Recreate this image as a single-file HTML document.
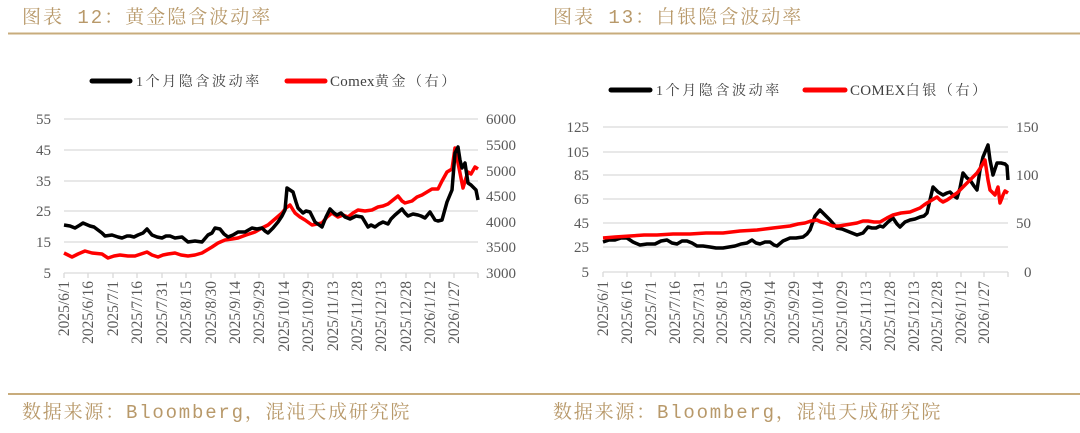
<!DOCTYPE html>
<html><head><meta charset="utf-8"><style>
html,body{margin:0;padding:0;background:#fff;}
body{width:1080px;height:428px;overflow:hidden;}
</style></head><body>
<svg width="1080" height="428" xmlns="http://www.w3.org/2000/svg">
<style>
.t{font-family:"Liberation Mono","Noto Serif CJK SC",serif;font-size:19px;fill:#b8996a;letter-spacing:2px;}
.f{font-family:"Liberation Mono","Noto Serif CJK SC",serif;font-size:19px;fill:#b8996a;letter-spacing:1.8px;}
.tk{font-family:"Liberation Serif",serif;font-size:15px;fill:#595959;}
.dt{font-family:"Liberation Serif",serif;font-size:15.5px;fill:#595959;}
.lg{font-family:"Liberation Serif","Noto Serif CJK SC",serif;font-size:14px;fill:#404040;letter-spacing:2.6px;}
.lt{letter-spacing:0.3px;font-size:15px;}
.g{stroke:#d9d9d9;stroke-width:1.3;}
</style>
<text class="t" x="22" y="23">图表 12：黄金隐含波动率</text>
<text class="t" x="553" y="23">图表 13：白银隐含波动率</text>
<line x1="8" y1="33.5" x2="1080" y2="33.5" stroke="#c8ac7c" stroke-width="2"/>
<line x1="8" y1="394" x2="1080" y2="394" stroke="#c8ac7c" stroke-width="2"/>
<text class="f" x="22" y="418">数据来源：Bloomberg，混沌天成研究院</text>
<text class="f" x="553" y="418">数据来源：Bloomberg，混沌天成研究院</text>

<!-- LEFT CHART -->
<line x1="92" y1="81" x2="130" y2="81" stroke="#000" stroke-width="5" stroke-linecap="round"/>
<text class="lg" x="136" y="86">1个月隐含波动率</text>
<line x1="287" y1="81" x2="325" y2="81" stroke="#f00" stroke-width="5" stroke-linecap="round"/>
<text class="lg" x="330" y="86"><tspan class="lt">Comex</tspan>黄金（右）</text>
<g class="g">
<line x1="64" y1="119" x2="478" y2="119"/><line x1="64" y1="150" x2="478" y2="150"/>
<line x1="64" y1="181" x2="478" y2="181"/><line x1="64" y1="211" x2="478" y2="211"/>
<line x1="64" y1="242" x2="478" y2="242"/><line x1="64" y1="273" x2="478" y2="273"/>
</g>
<g stroke="#d9d9d9" stroke-width="1.3">
<line x1="64" y1="273" x2="64" y2="278"/><line x1="88" y1="273" x2="88" y2="278"/><line x1="113" y1="273" x2="113" y2="278"/><line x1="137" y1="273" x2="137" y2="278"/><line x1="162" y1="273" x2="162" y2="278"/><line x1="186" y1="273" x2="186" y2="278"/><line x1="211" y1="273" x2="211" y2="278"/><line x1="235" y1="273" x2="235" y2="278"/><line x1="259" y1="273" x2="259" y2="278"/><line x1="284" y1="273" x2="284" y2="278"/><line x1="308" y1="273" x2="308" y2="278"/><line x1="333" y1="273" x2="333" y2="278"/><line x1="357" y1="273" x2="357" y2="278"/><line x1="381" y1="273" x2="381" y2="278"/><line x1="406" y1="273" x2="406" y2="278"/><line x1="430" y1="273" x2="430" y2="278"/><line x1="454" y1="273" x2="454" y2="278"/><line x1="478" y1="273" x2="478" y2="278"/>
</g>
<g class="tk" text-anchor="end">
<text x="51" y="124">55</text><text x="51" y="155">45</text><text x="51" y="186">35</text>
<text x="51" y="216">25</text><text x="51" y="247">15</text><text x="51" y="278">5</text>
</g>
<g class="tk">
<text x="486" y="124">6000</text><text x="486" y="150">5500</text><text x="486" y="176">5000</text>
<text x="486" y="201">4500</text><text x="486" y="227">4000</text><text x="486" y="252">3500</text><text x="486" y="278">3000</text>
</g>
<g class="dt" text-anchor="end">
<text transform="translate(69,281) rotate(-90)">2025/6/1</text>
<text transform="translate(93,281) rotate(-90)">2025/6/16</text>
<text transform="translate(118,281) rotate(-90)">2025/7/1</text>
<text transform="translate(142,281) rotate(-90)">2025/7/16</text>
<text transform="translate(167,281) rotate(-90)">2025/7/31</text>
<text transform="translate(191,281) rotate(-90)">2025/8/15</text>
<text transform="translate(216,281) rotate(-90)">2025/8/30</text>
<text transform="translate(240,281) rotate(-90)">2025/9/14</text>
<text transform="translate(264,281) rotate(-90)">2025/9/29</text>
<text transform="translate(289,281) rotate(-90)">2025/10/14</text>
<text transform="translate(313,281) rotate(-90)">2025/10/29</text>
<text transform="translate(338,281) rotate(-90)">2025/11/13</text>
<text transform="translate(362,281) rotate(-90)">2025/11/28</text>
<text transform="translate(386,281) rotate(-90)">2025/12/13</text>
<text transform="translate(411,281) rotate(-90)">2025/12/28</text>
<text transform="translate(435,281) rotate(-90)">2026/1/12</text>
<text transform="translate(459,281) rotate(-90)">2026/1/27</text>
</g>
<polyline fill="none" stroke="#f00" stroke-width="3.5" stroke-linejoin="round" points="64,253 68,255 72,257 78,254 85,251 92,253 102,254 108,258 114,256 120,255 128,256 135,256 141,254 147,252 152,255 158,257 163,255 168,254 175,253 181,255 188,256 195,255 202,253 207,250 212,247 218,243 225,240 232,239 238,238 246,235 255,232 262,228 268,225 275,219 282,213 286,208 290,205 295,213 300,217 305,220 312,225 317,224 322,223 327,217 332,213 338,217 343,215 348,217 353,213 358,210 365,211 372,210 378,207 383,206 388,204 393,200 398,196 402,201 405,203 412,201 417,197 422,195 427,192 432,189 438,189 442,181 447,172 452,169 455,148 458,163 460,173 463,188 466,178 468,172 471,174 475,167 478,169"/>
<polyline fill="none" stroke="#000" stroke-width="3.5" stroke-linejoin="round" points="64,225 70,226 75,228 80,225 83,223 90,226 94,227 98,230 102,233 105,236 112,235 118,237 122,238 127,236 130,236 134,237 138,235 143,233 147,229 152,235 157,237 162,238 166,236 170,236 175,238 182,237 188,242 195,241 202,242 208,235 212,233 215,228 220,229 224,234 228,237 233,235 238,232 245,232 252,228 257,229 262,228 265,231 268,233 273,228 278,222 282,216 285,210 287,188 290,190 293,192 296,202 298,208 303,213 306,211 310,212 313,218 315,222 322,227 326,217 330,209 334,213 337,215 341,213 345,217 350,219 356,216 362,217 365,222 368,227 371,225 375,227 379,224 383,222 388,224 391,219 395,215 402,209 405,213 408,216 413,214 418,215 421,216 425,218 430,212 435,220 438,221 442,220 447,202 452,190 455,153 458,147 460,160 462,168 465,163 468,183 471,185 473,187 476,190 478,200"/>

<!-- RIGHT CHART -->
<line x1="611" y1="90" x2="650" y2="90" stroke="#000" stroke-width="5" stroke-linecap="round"/>
<text class="lg" x="656" y="95">1个月隐含波动率</text>
<line x1="805" y1="90" x2="845" y2="90" stroke="#f00" stroke-width="5" stroke-linecap="round"/>
<text class="lg" x="850" y="95"><tspan class="lt">COMEX</tspan>白银（右）</text>
<g class="g">
<line x1="603" y1="127" x2="1008" y2="127"/><line x1="603" y1="152" x2="1008" y2="152"/>
<line x1="603" y1="175" x2="1008" y2="175"/><line x1="603" y1="199" x2="1008" y2="199"/>
<line x1="603" y1="223" x2="1008" y2="223"/><line x1="603" y1="247" x2="1008" y2="247"/>
<line x1="603" y1="272" x2="1008" y2="272"/>
</g>
<g stroke="#d9d9d9" stroke-width="1.3">
<line x1="603" y1="272" x2="603" y2="277"/><line x1="627" y1="272" x2="627" y2="277"/><line x1="651" y1="272" x2="651" y2="277"/><line x1="675" y1="272" x2="675" y2="277"/><line x1="699" y1="272" x2="699" y2="277"/><line x1="722" y1="272" x2="722" y2="277"/><line x1="746" y1="272" x2="746" y2="277"/><line x1="770" y1="272" x2="770" y2="277"/><line x1="794" y1="272" x2="794" y2="277"/><line x1="818" y1="272" x2="818" y2="277"/><line x1="842" y1="272" x2="842" y2="277"/><line x1="866" y1="272" x2="866" y2="277"/><line x1="890" y1="272" x2="890" y2="277"/><line x1="914" y1="272" x2="914" y2="277"/><line x1="937" y1="272" x2="937" y2="277"/><line x1="961" y1="272" x2="961" y2="277"/><line x1="984" y1="272" x2="984" y2="277"/><line x1="1008" y1="272" x2="1008" y2="277"/>
</g>
<g class="tk" text-anchor="end">
<text x="589" y="132">125</text><text x="589" y="157">105</text><text x="589" y="180">85</text>
<text x="589" y="204">65</text><text x="589" y="228">45</text><text x="589" y="252">25</text><text x="589" y="277">5</text>
</g>
<g class="tk">
<text x="1016" y="132">150</text><text x="1016" y="180">100</text><text x="1016" y="228">50</text><text x="1024" y="277">0</text>
</g>
<g class="dt" text-anchor="end">
<text transform="translate(608,281) rotate(-90)">2025/6/1</text>
<text transform="translate(632,281) rotate(-90)">2025/6/16</text>
<text transform="translate(656,281) rotate(-90)">2025/7/1</text>
<text transform="translate(680,281) rotate(-90)">2025/7/16</text>
<text transform="translate(704,281) rotate(-90)">2025/7/31</text>
<text transform="translate(727,281) rotate(-90)">2025/8/15</text>
<text transform="translate(751,281) rotate(-90)">2025/8/30</text>
<text transform="translate(775,281) rotate(-90)">2025/9/14</text>
<text transform="translate(799,281) rotate(-90)">2025/9/29</text>
<text transform="translate(823,281) rotate(-90)">2025/10/14</text>
<text transform="translate(847,281) rotate(-90)">2025/10/29</text>
<text transform="translate(871,281) rotate(-90)">2025/11/13</text>
<text transform="translate(895,281) rotate(-90)">2025/11/28</text>
<text transform="translate(919,281) rotate(-90)">2025/12/13</text>
<text transform="translate(942,281) rotate(-90)">2025/12/28</text>
<text transform="translate(966,281) rotate(-90)">2026/1/12</text>
<text transform="translate(989,281) rotate(-90)">2026/1/27</text>
</g>
<polyline fill="none" stroke="#000" stroke-width="3.5" stroke-linejoin="round" points="603,242 609,240 615,240 621,238 627,238 633,242 640,245 647,244 655,244 661,241 667,240 672,243 677,244 682,241 687,241 692,243 697,246 703,246 710,247 716,248 723,248 729,247 735,246 741,244 747,243 752,240 756,243 760,244 765,242 770,242 774,245 777,246 783,241 790,238 796,238 803,237 807,234 810,230 815,216 820,210 825,215 830,220 837,228 842,229 847,231 852,233 857,235 863,233 868,227 872,228 876,228 880,226 883,227 888,222 893,218 897,224 900,227 905,222 910,220 915,219 920,217 924,216 927,213 933,187 938,192 943,195 947,193 950,192 954,196 957,198 960,188 963,173 967,178 970,180 974,186 977,190 980,170 983,157 988,145 990,160 993,175 997,163 1001,163 1005,164 1007,166 1008,180"/>
<polyline fill="none" stroke="#f00" stroke-width="3.5" stroke-linejoin="round" points="603,238 615,237 630,236 644,235 657,235 673,234 690,234 706,233 723,233 740,231 757,230 773,228 790,226 798,224 805,223 811,221 817,220 821,222 825,223 833,226 839,226 845,225 851,224 857,223 863,221 868,221 874,222 880,222 887,218 893,215 901,213 910,212 915,210 920,208 924,205 927,203 932,200 937,197 940,200 943,202 947,200 950,198 954,195 957,193 962,188 967,183 972,178 977,173 981,167 985,160 988,180 990,190 993,193 995,195 998,187 1000,203 1002,198 1003,195 1005,191 1008,193"/>
</svg>
</body></html>
